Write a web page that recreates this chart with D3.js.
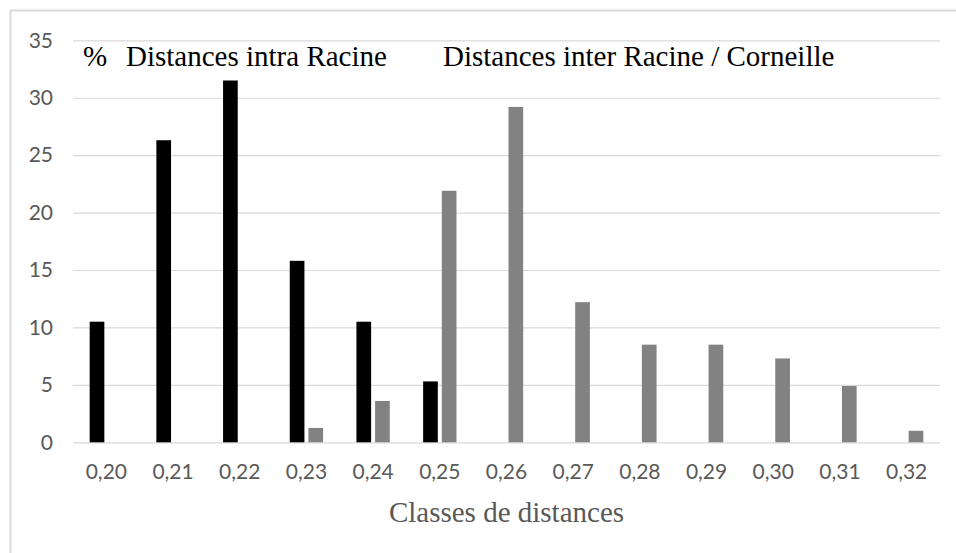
<!DOCTYPE html>
<html>
<head>
    <meta charset="utf-8">
    <title>Classes de distances</title>
    <script src="https://cdn.jsdelivr.net/npm/d3@7"></script>
    <style>
        html, body { margin: 0; padding: 0; background: #fff; }
        .tick text { font-family: Lato, "Open Sans", sans-serif; font-size: 21px; fill: #595959; }
        .serif { font-family: "Liberation Serif", "Times New Roman", serif; }
    </style>
</head>
<body>
<script>
    // Données
    var classes = ["0,20","0,21","0,22","0,23","0,24","0,25","0,26","0,27","0,28","0,29","0,30","0,31","0,32"];
    var intraRacine = [10.5, 26.3, 31.5, 15.8, 10.5, 5.3, null, null, null, null, null, null, null];
    var interRacineCorneille = [null, null, null, 1.25, 3.6, 21.9, 29.2, 12.2, 8.5, 8.5, 7.3, 4.9, 1.0];
    var yTicks = [0, 5, 10, 15, 20, 25, 30, 35];

    var width = 956, height = 553;
    var plotLeft = 73, plotRight = 940, plotTop = 40.3, plotBottom = 442.3;

    var svg = d3.select("body").append("svg")
        .attr("width", width)
        .attr("height", height);

    // cadre du graphique (coupé à droite et en bas)
    svg.append("rect")
        .attr("x", 10.5).attr("y", 10.5)
        .attr("width", 1000).attr("height", 600)
        .attr("fill", "none")
        .attr("stroke", "#d9d9d9")
        .attr("stroke-width", 2);

    var x = d3.scaleBand().domain(classes).range([plotLeft, plotRight]).padding(0);
    var step = x.bandwidth();
    var x1 = d3.scaleBand().domain(["intra", "inter"])
        .range([step * 0.25, step * 0.75])
        .paddingInner(0.214);
    var y = d3.scaleLinear().domain([0, 35]).range([plotBottom, plotTop]);

    // grille + axe y
    var yAxis = svg.append("g")
        .attr("transform", "translate(" + plotLeft + ",0)")
        .call(d3.axisLeft(y).tickValues(yTicks).tickSize(-(plotRight - plotLeft)).tickPadding(20));
    yAxis.select(".domain").remove();
    yAxis.selectAll(".tick line").attr("stroke", "#d9d9d9").attr("stroke-width", 1.2);

    // axe x
    var xAxis = svg.append("g")
        .attr("transform", "translate(0," + plotBottom + ")")
        .call(d3.axisBottom(x).tickSize(0).tickPadding(22));
    xAxis.select(".domain").remove();

    var series = [
        { key: "intra", values: intraRacine, color: "#000000" },
        { key: "inter", values: interRacineCorneille, color: "#828282" }
    ];

    series.forEach(function(s) {
        var data = classes.map(function(c, i) { return { c: c, v: s.values[i] }; })
            .filter(function(d) { return d.v != null; });
        svg.append("g").selectAll("rect")
            .data(data)
            .join("rect")
            .attr("x", function(d) { return x(d.c) + x1(s.key); })
            .attr("width", x1.bandwidth())
            .attr("y", function(d) { return y(d.v); })
            .attr("height", function(d) { return y(0) - y(d.v); })
            .attr("fill", s.color);
    });

    // légendes dans le graphique
    var labels = svg.append("g").attr("class", "serif")
        .attr("font-size", "29px").attr("fill", "#000");
    labels.append("text").attr("x", 83).attr("y", 66).text("%");
    labels.append("text").attr("x", 126).attr("y", 66).text("Distances intra Racine");
    labels.append("text").attr("x", 443).attr("y", 66).text("Distances inter Racine / Corneille");

    // titre de l'axe x
    svg.append("text").attr("class", "serif")
        .attr("x", (plotLeft + plotRight) / 2)
        .attr("y", 522)
        .attr("text-anchor", "middle")
        .attr("font-size", "29px")
        .attr("fill", "#595959")
        .text("Classes de distances");
</script>
</body>
</html>
